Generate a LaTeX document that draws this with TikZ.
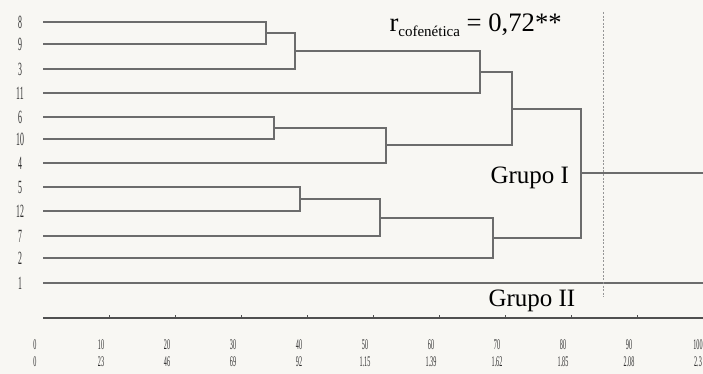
\documentclass[tikz,border=0pt]{standalone}
\usepackage{fontspec}
\setmainfont{Liberation Serif}
\usepackage{graphicx}

\tikzset{every picture/.style={line width=0.75pt}}
\tikzset{
  dend/.style={color={rgb, 255:red, 108; green, 108; blue, 108 }, line width=1.5pt},
  axisline/.style={color={rgb, 255:red, 80; green, 80; blue, 80 }, line width=1.5pt},
  leaflab/.style={inner sep=0pt, font=\fontsize{14}{14}\selectfont, color={rgb, 255:red, 45; green, 45; blue, 45 }},
  ticklab/.style={inner sep=0pt, font=\fontsize{11}{11}\selectfont, color={rgb, 255:red, 45; green, 45; blue, 45 }},
  grouplab/.style={anchor=base west, inner sep=0pt, font=\fontsize{18.75}{20}\selectfont},
}
\newcommand{\narrownum}[1]{\scalebox{0.42}[1]{#1}}

\begin{document}
\begin{tikzpicture}[x=0.75pt,y=0.75pt,yscale=-1,xscale=1]
%Shape: Background
\fill [color={rgb, 255:red, 248; green, 247; blue, 243 }] (0,0) rectangle (703,374);
\useasboundingbox (0,0) rectangle (703,374);

%Leaves
\coordinate (l8) at (43,22);
\coordinate (l9) at (43,44);
\coordinate (l3) at (43,69);
\coordinate (l11) at (43,93);
\coordinate (l6) at (43,117);
\coordinate (l10) at (43,139);
\coordinate (l4) at (43,163);
\coordinate (l5) at (43,187);
\coordinate (l12) at (43,211);
\coordinate (l7) at (43,236);
\coordinate (l2) at (43,258);
\coordinate (l1) at (43,283);

%Merge points
\coordinate (m89) at (266,33);
\coordinate (m893) at (295,51);
\coordinate (mA) at (480,72);
\coordinate (m610) at (274,128);
\coordinate (m6104) at (386,145.5);
\coordinate (mB) at (512,108.75);
\coordinate (m512) at (300,199);
\coordinate (m5127) at (380,217.5);
\coordinate (mC) at (493,237.75);
\coordinate (grupoI) at (581,173.25);
\coordinate (endI) at (703,173.25);
\coordinate (endII) at (703,283);

%Dendrogram
\draw [dend] (l8) -| (m89) |- (l9) ;
\draw [dend] (m89) -| (m893) |- (l3) ;
\draw [dend] (m893) -| (mA) |- (l11) ;
\draw [dend] (l6) -| (m610) |- (l10) ;
\draw [dend] (m610) -| (m6104) |- (l4) ;
\draw [dend] (mA) -| (mB) |- (m6104) ;
\draw [dend] (l5) -| (m512) |- (l12) ;
\draw [dend] (m512) -| (m5127) |- (l7) ;
\draw [dend] (m5127) -| (mC) |- (l2) ;
\draw [dend] (mB) -| (grupoI) |- (mC) ;
\draw [dend] (grupoI) -- (endI) ;
\draw [dend] (l1) -- (endII) ;

%Straight Lines: cut line
\coordinate (cutT) at (603,12);
\coordinate (cutB) at (603,297);
\draw [color={rgb, 255:red, 150; green, 150; blue, 150 }, line width=0.6pt] [dash pattern={on 1.5pt off 1.2pt}] (cutT) -- (cutB) ;

%Axis
\coordinate (ax0) at (43,318);
\coordinate (ax100) at (703,318);
\draw [axisline] (ax0) -- (ax100) ;
\draw [axisline, line width=0.75pt] (109,318) -- (109,314.5) (175,318) -- (175,314.5) (241,318) -- (241,314.5) (307,318) -- (307,314.5) (373,318) -- (373,314.5) (439,318) -- (439,314.5) (505,318) -- (505,314.5) (571,318) -- (571,314.5) (637,318) -- (637,314.5) ;

% Text Node: leaf labels
\node [leaflab] (t8) at (20,22) {\narrownum{8}};
\node [leaflab] (t9) at (20,44) {\narrownum{9}};
\node [leaflab] (t3) at (20,69) {\narrownum{3}};
\node [leaflab] (t11) at (20,93) {\narrownum{11}};
\node [leaflab] (t6) at (20,117) {\narrownum{6}};
\node [leaflab] (t10) at (20,139) {\narrownum{10}};
\node [leaflab] (t4) at (20,163) {\narrownum{4}};
\node [leaflab] (t5) at (20,187) {\narrownum{5}};
\node [leaflab] (t12) at (20,211) {\narrownum{12}};
\node [leaflab] (t7) at (20,236) {\narrownum{7}};
\node [leaflab] (t2) at (20,258) {\narrownum{2}};
\node [leaflab] (t1) at (20,283) {\narrownum{1}};

% Text Node: axis labels
\node [ticklab] (s0) at (35,345) {\narrownum{0}};
\node [ticklab] (s10) at (101,345) {\narrownum{10}};
\node [ticklab] (s20) at (167,345) {\narrownum{20}};
\node [ticklab] (s30) at (233,345) {\narrownum{30}};
\node [ticklab] (s40) at (299,345) {\narrownum{40}};
\node [ticklab] (s50) at (365,345) {\narrownum{50}};
\node [ticklab] (s60) at (431,345) {\narrownum{60}};
\node [ticklab] (s70) at (497,345) {\narrownum{70}};
\node [ticklab] (s80) at (563,345) {\narrownum{80}};
\node [ticklab] (s90) at (629,345) {\narrownum{90}};
\node [ticklab] (s100) at (698,345) {\narrownum{100}};
\node [ticklab] (d0) at (35,362) {\narrownum{0}};
\node [ticklab] (d10) at (101,362) {\narrownum{23}};
\node [ticklab] (d20) at (167,362) {\narrownum{46}};
\node [ticklab] (d30) at (233,362) {\narrownum{69}};
\node [ticklab] (d40) at (299,362) {\narrownum{92}};
\node [ticklab] (d50) at (365,362) {\narrownum{1.15}};
\node [ticklab] (d60) at (431,362) {\narrownum{1.39}};
\node [ticklab] (d70) at (497,362) {\narrownum{1.62}};
\node [ticklab] (d80) at (563,362) {\narrownum{1.85}};
\node [ticklab] (d90) at (629,362) {\narrownum{2.08}};
\node [ticklab] (d100) at (698,362) {\narrownum{2.3}};

% Text Node
\node [grouplab, font=\fontsize{20}{22}\selectfont] (rcof) at (389,32) {r\raisebox{-3.5pt}{\fontsize{11.25}{12}\selectfont cofenética} = 0,72**};
% Text Node
\node [grouplab] (gI) at (490,184) {Grupo I};
% Text Node
\node [grouplab] (gII) at (488,306) {Grupo II};

\end{tikzpicture}
\end{document}
